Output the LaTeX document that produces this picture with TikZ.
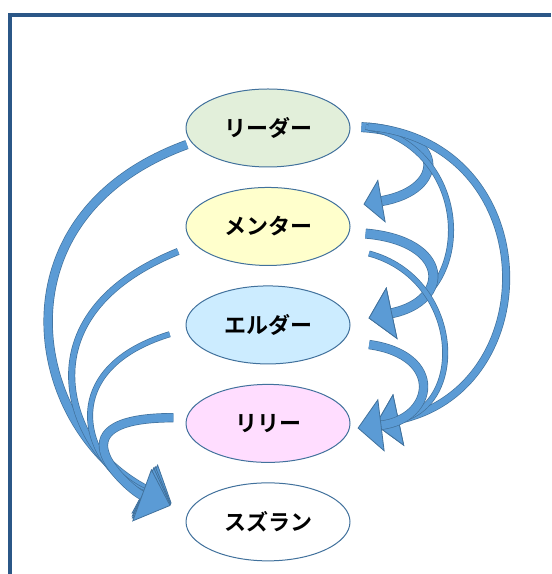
\documentclass[tikz,border=0pt]{standalone}
\usepackage{fontspec}
\newfontfamily\jpfont{Noto Sans CJK JP Bold}
\usetikzlibrary{arrows.meta, positioning, shapes.geometric}
\definecolor{frameblue}{RGB}{43,87,135}
\definecolor{roleline}{RGB}{65,113,156}
\definecolor{arrowfill}{RGB}{91,155,213}
\definecolor{arrowline}{RGB}{65,113,156}
\definecolor{leaderfill}{RGB}{226,239,218}
\definecolor{mentorfill}{RGB}{255,255,204}
\definecolor{elderfill}{RGB}{204,236,255}
\definecolor{lilyfill}{RGB}{255,221,255}
\tikzset{%
	frame/.style={draw=frameblue, line width=3pt},
	role/.style={draw=roleline, ellipse, line width=0.75pt, minimum width=123pt,%
		minimum height=58.5pt, inner sep=0pt, font=\jpfont\fontsize{16.5}{18}\selectfont},
	flow/.style={draw=arrowline, line width=0.5pt, double=arrowfill, double distance=#1,%
		-{Triangle[length=18pt, width=40pt, fill=arrowfill, line width=0.6pt]}},
	smallhead/.style={-{Triangle[length=14pt, width=33pt, fill=arrowfill, line width=0.6pt]}},
	bighead/.style={-{Triangle[length=23pt, width=42pt, fill=arrowfill, line width=0.6pt]}}
}
\begin{document}
\begin{tikzpicture}[x=0.75pt, y=0.75pt, node distance=14.6pt]
	\useasboundingbox (0,0) rectangle (551,574);
	\draw[frame] (10,0) -- (10,559) -- (551,559);

	\node[role, fill=leaderfill] (leader) at (268,446) {リーダー};
	\node[role, fill=mentorfill] (mentor) [below=of leader] {メンター};
	\node[role, fill=elderfill]  (elder)  [below=of mentor] {エルダー};
	\node[role, fill=lilyfill]   (lily)   [below=of elder]  {リリー};
	\node[role, fill=white]      (suzuran) [below=of lily]  {スズラン};

	% left side: everyone to suzuran
	\draw[flow=6pt, bighead, shorten <=3.75pt, shorten >=14pt] (leader.191) .. controls +(200:215) and +(152:181) .. (suzuran.173);
	\draw[flow=4.3pt, bighead, shorten <=13.5pt, shorten >=14pt] (mentor.194) .. controls +(202:201) and +(155:123) .. (suzuran.173);
	\draw[flow=3.5pt, bighead, shorten <=12.75pt, shorten >=14pt] (elder.183) .. controls +(197:142) and +(157:111) .. (suzuran.173);
	\draw[flow=6pt, bighead, shorten <=9.75pt, shorten >=14pt] (lily.176) .. controls +(180:143) and +(160:59) .. (suzuran.173);

	% right side
	\draw[flow=6.5pt, smallhead, shorten <=8.25pt, shorten >=17pt] (leader.1) .. controls +(-3:96) and +(10:108) .. (mentor.14);
	\draw[flow=3.5pt, shorten <=12pt, shorten >=14pt] (leader.3) .. controls +(-11:126) and +(12:128) .. (elder.2);
	\draw[flow=5pt, shorten <=13.5pt, shorten >=20pt] (leader.2) .. controls +(-5:195) and +(12:204) .. (lily.-5);
	\draw[flow=6.5pt, shorten <=12pt, shorten >=14pt] (mentor.-4) .. controls +(-5:101) and +(12:103.5) .. (elder.2);
	\draw[flow=3.5pt, shorten <=22.5pt, shorten >=20pt] (mentor.-15) .. controls +(-15:125) and +(12:122) .. (lily.-5);
	\draw[flow=6pt, shorten <=19.5pt, shorten >=6pt] (elder.-12) .. controls +(-8:103) and +(7:85) .. (lily.-4);
\end{tikzpicture}
\end{document}
